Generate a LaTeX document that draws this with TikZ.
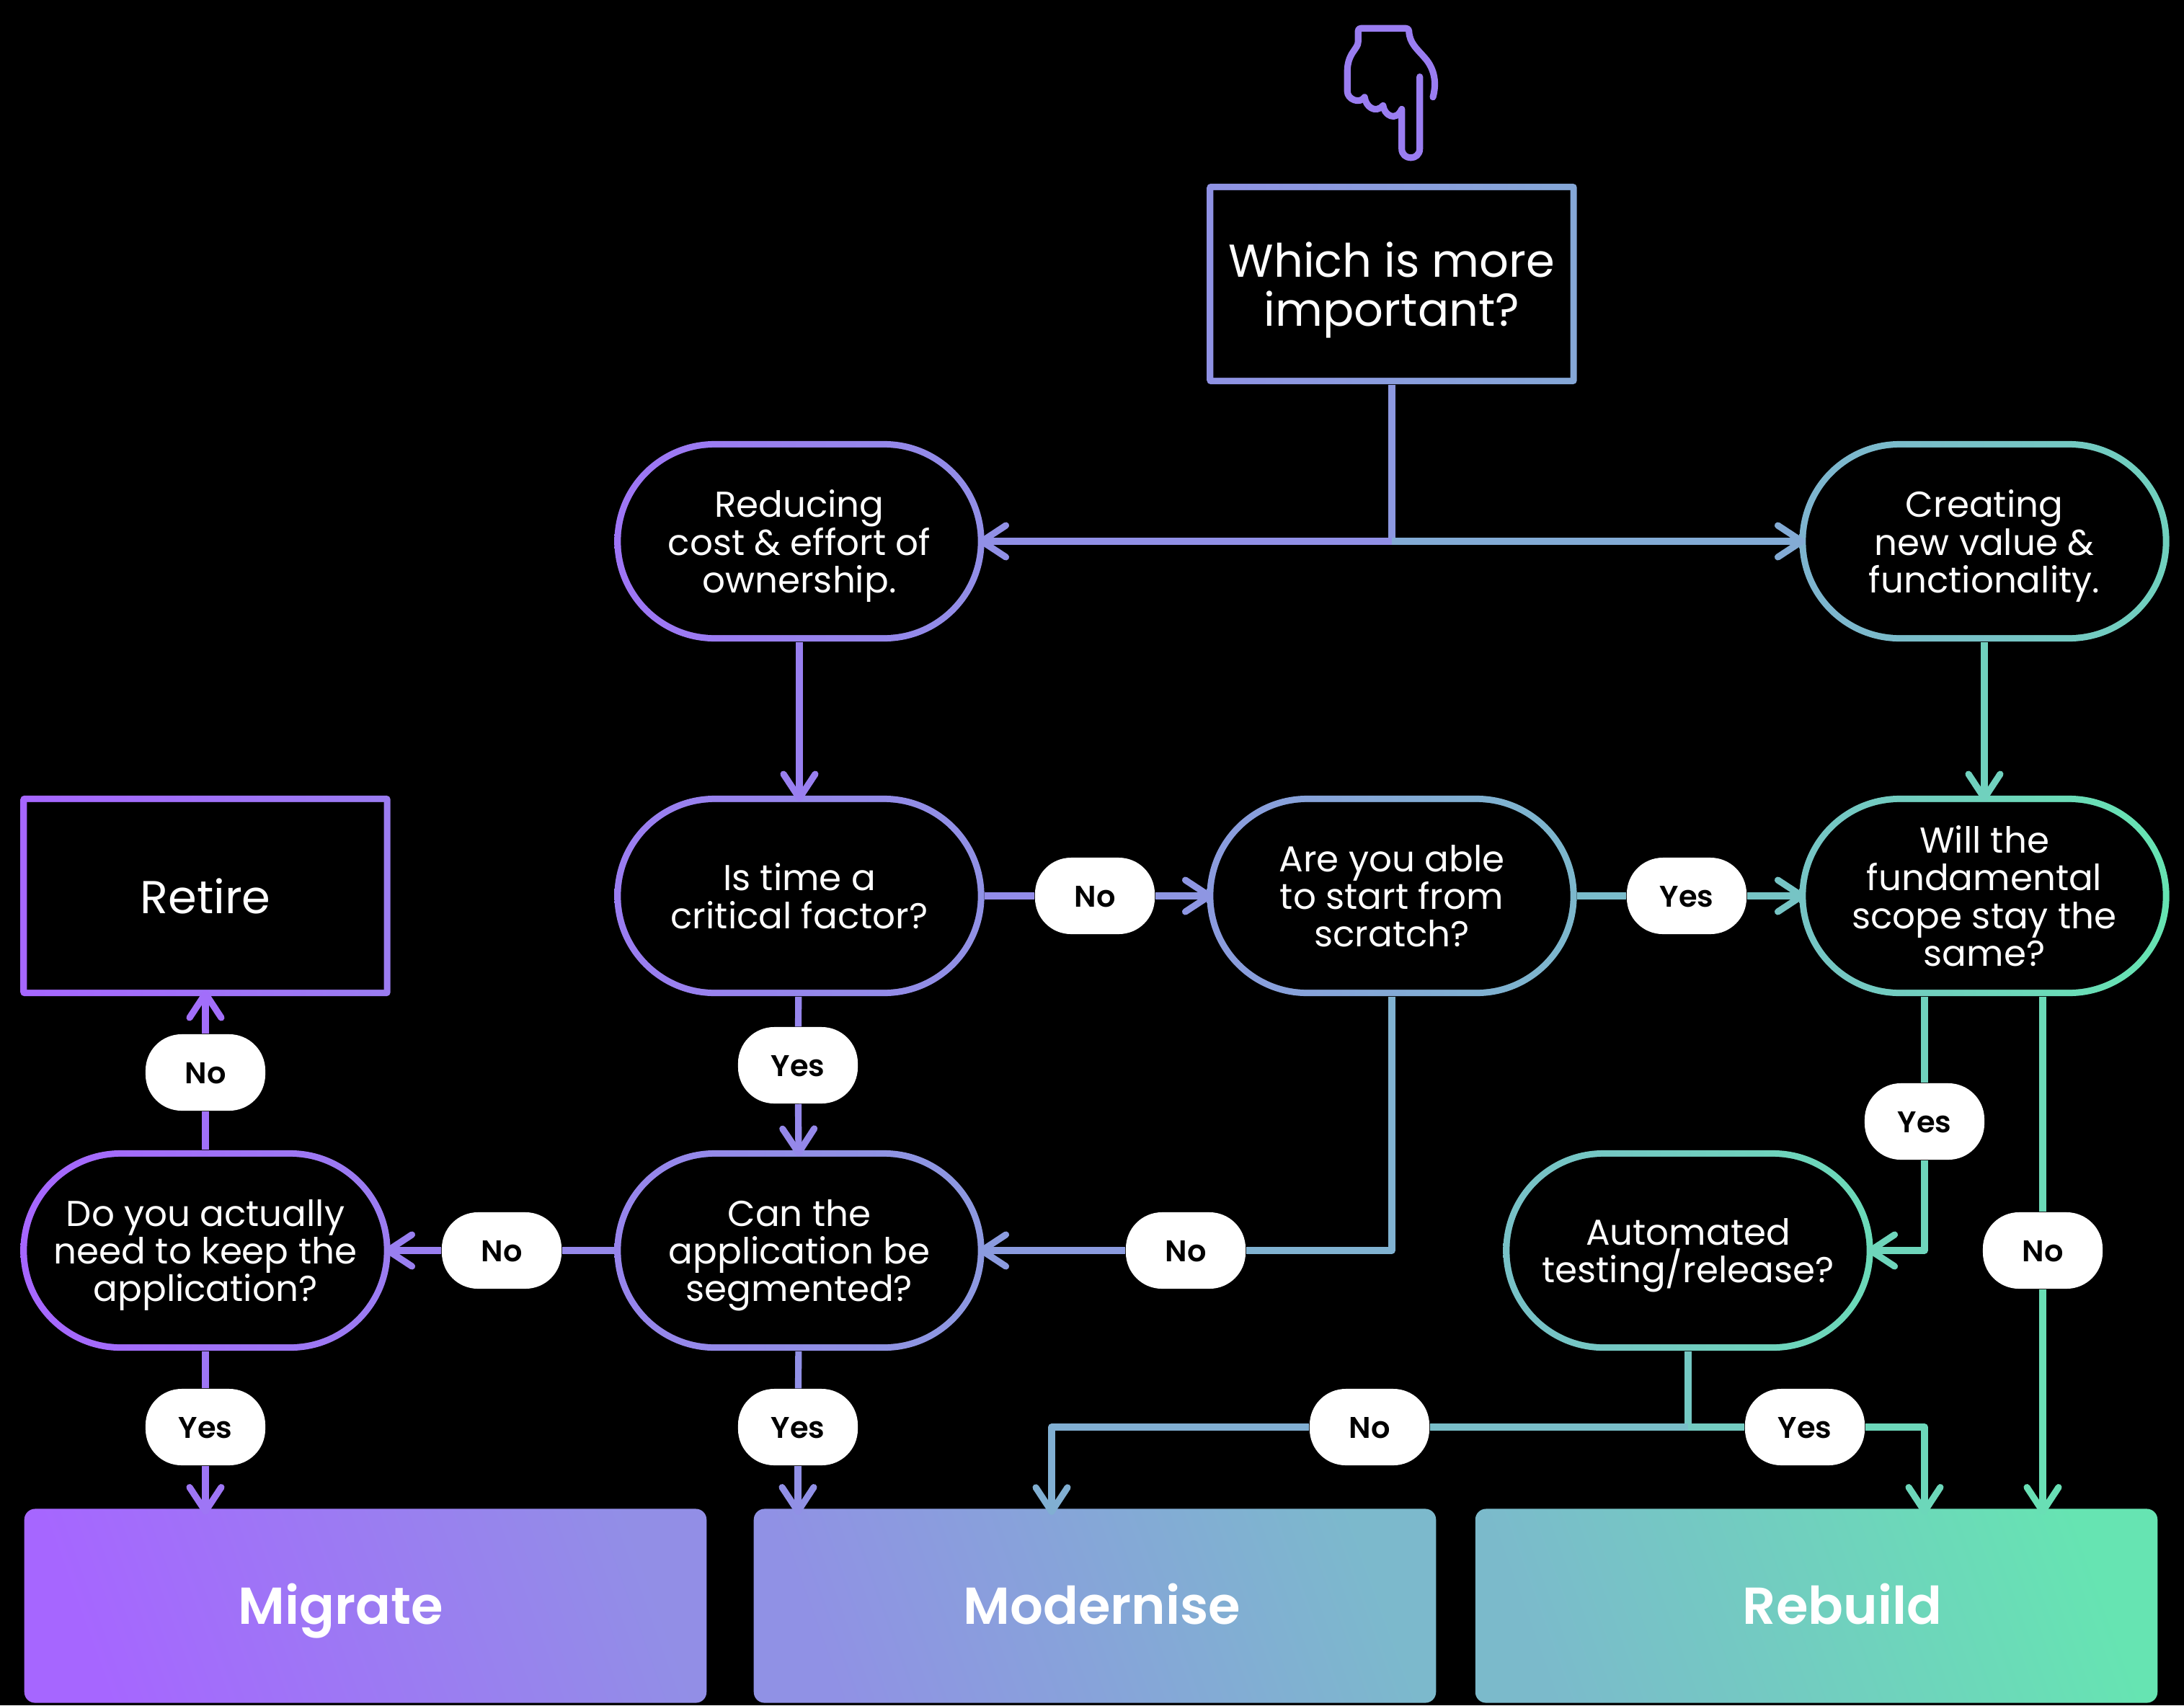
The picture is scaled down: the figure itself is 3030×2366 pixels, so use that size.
\documentclass[tikz,border=0pt]{standalone}
\usepackage{fontspec}
\setmainfont{Poppins}
\newfontfamily\flowmed{Poppins SemiBold}
\usetikzlibrary{arrows.meta}

\definecolor{flowpurple}{HTML}{A666FF}
\definecolor{flowgreen}{HTML}{66E4B2}

\tikzset{
	flowframe/.style n args={4}{rectangle,minimum width=5.13cm,minimum height=2.78cm,inner sep=0pt,
		text=white,align=center,rounded corners=#3,text depth=0pt,font=\fontsize{14.2}{14.8}\selectfont,
		path picture={
			\shade[left color=flowgreen!#1!flowpurple,right color=flowgreen!#2!flowpurple]
				(path picture bounding box.south west) rectangle (path picture bounding box.north east);
			\fill[black,rounded corners=#4] ([shift={(.09cm,.09cm)}]path picture bounding box.south west)
				rectangle ([shift={(-.09cm,-.09cm)}]path picture bounding box.north east);
		}},
	flowpill/.style 2 args={flowframe={#1}{#2}{1.39cm}{1.30cm}},
	flowrect/.style 2 args={flowframe={#1}{#2}{.05cm}{.001cm},text depth=-0.8pt,font=\fontsize{18.2}{19.2}\selectfont},
	answer/.style={rectangle,fill=white,text=black,minimum width=1.66cm,minimum height=1.06cm,inner sep=0pt,
		rounded corners=.5cm,text height=11.7pt,text depth=3pt,font=\flowmed\fontsize{11.8}{14}\selectfont},
	outcome/.style 2 args={rectangle,minimum width=9.46cm,minimum height=2.69cm,inner sep=0pt,rounded corners=.15cm,
		left color=flowgreen!#1!flowpurple,right color=flowgreen!#2!flowpurple,shading angle=110},
	outcometext/.style={text=white,text height=19.4pt,text depth=5pt,font=\flowmed\fontsize{20.5}{22}\selectfont},
	flowline/.style={draw=flowgreen!#1!flowpurple,line width=2.6pt,line join=round},
	flowarrow/.style={flowline=#1,-{Straight Barb[length=9.5pt,width=12.5pt,round]},shorten >=-2.5pt},
}

\begin{document}
\begin{tikzpicture}[x=0.01cm,y=-0.01cm]
	\fill[black] (0,0) rectangle (3030,2366);
	% pointing hand
	\begin{scope}[shift={(1780,0)},x=0.00333cm,y=-0.00333cm]
		\draw[flowline=18,line cap=round] (625,405) .. controls (640,350) and (635,290) .. (590,240)
			.. controls (560,205) and (527,180) .. (525,130) .. controls (525,122) and (520,118) .. (512,118)
			-- (325,118) .. controls (317,118) and (313,122) .. (313,130) -- (313,175)
			.. controls (313,205) and (268,220) .. (268,300) -- (268,380)
			.. controls (268,415) and (320,435) .. (340,405) .. controls (345,445) and (385,475) .. (417,440)
			.. controls (422,480) and (470,510) .. (495,455) -- (495,620)
			.. controls (495,670) and (570,670) .. (570,620) -- (570,320);
	\end{scope}

	% questions
	\node[flowrect={35}{52}] (which) at (1931,394) {Which is more\\important?};
	\node[flowpill={12}{32}] (reducing) at (1109,751) {Reducing\\cost \& effort of\\ownership.};
	\node[flowpill={62}{85}] (creating) at (2753,751) {Creating\\new value \&\\functionality.};
	\node[flowrect={0}{18}] (retire) at (285,1243) {Retire};
	\node[flowpill={18}{34}] (time) at (1109,1243) {Is time a\\critical factor?};
	\node[flowpill={42}{65}] (scratch) at (1931,1243) {Are you able\\to start from\\scratch?};
	\node[flowpill={75}{100}] (scope) at (2753,1243) {Will the\\fundamental\\scope stay the\\same?};
	\node[flowpill={0}{18}] (keep) at (285,1735) {Do you actually\\need to keep the\\application?};
	\node[flowpill={24}{40}] (segment) at (1109,1735) {Can the\\application be\\segmented?};
	\node[flowpill={72}{92}] (testing) at (2342,1735) {Automated\\testing/release?};

	% outcomes
	\node[outcome={0}{32}] (migrate) at (507,2228) {};
	\node[outcome={34}{66}] (modernise) at (1519,2228) {};
	\node[outcome={67}{100}] (rebuild) at (2520,2228) {};
	\node[outcometext] (migratetext) at (473,2228) {Migrate};
	\node[outcometext] (modernisetext) at (1529,2228) {Modernise};
	\node[outcometext] (rebuildtext) at (2556,2228) {Rebuild};

	% answers
	\node[answer] (noretire) at (285,1488) {No};
	\node[answer] (yeskeep) at (285,1980) {Yes};
	\node[answer] (nosegment) at (696,1735) {No};
	\node[answer] (yestime) at (1107,1478) {Yes};
	\node[answer] (yessegment) at (1107,1980) {Yes};
	\node[answer] (notime) at (1519,1243) {No};
	\node[answer] (noscratch) at (1645,1735) {No};
	\node[answer] (yesscratch) at (2340,1243) {Yes};
	\node[answer] (yesscope) at (2670,1556) {Yes};
	\node[answer] (noscope) at (2834,1735) {No};
	\node[answer] (notesting) at (1900,1980) {No};
	\node[answer] (yestesting) at (2504,1980) {Yes};

	\coordinate (whichjoin) at (1931,751);
	\coordinate (testingjoin) at (2342,1980);
	\coordinate (moderniseport) at (1459,2093);

	\draw[flowline=40] (which) -- (whichjoin);
	\draw[flowarrow=33] (whichjoin) -- (reducing);
	\draw[flowarrow=55] (whichjoin) -- (creating);
	\draw[flowarrow=20] (reducing) -- (time);
	\draw[flowarrow=85] (creating) -- (scope);

	\draw[flowline=30] (time) -- (notime);
	\draw[flowarrow=38] (notime) -- (scratch);
	\draw[flowline=68] (scratch) -- (yesscratch);
	\draw[flowarrow=75] (yesscratch) -- (scope);
	\draw[flowline=25] (time) -- (yestime);
	\draw[flowarrow=27] (yestime) -- (segment);

	\draw[flowline=60] (scratch) |- (noscratch);
	\draw[flowarrow=42] (noscratch) -- (segment);
	\draw[flowline=27] (segment) -- (nosegment);
	\draw[flowarrow=20] (nosegment) -- (keep);
	\draw[flowline=8] (keep) -- (noretire);
	\draw[flowarrow=6] (noretire) -- (retire);
	\draw[flowline=13] (keep) -- (yeskeep);
	\draw[flowarrow=13] (yeskeep) -- (yeskeep |- migrate.north);
	\draw[flowline=33] (segment) -- (yessegment);
	\draw[flowarrow=33] (yessegment) -- (yessegment |- modernise.north);

	\draw[flowline=86] (scope.south -| yesscope) -- (yesscope);
	\draw[flowarrow=88] (yesscope) |- (testing);
	\draw[flowline=92] (scope.south -| noscope) -- (noscope);
	\draw[flowarrow=96] (noscope) -- (noscope |- rebuild.north);
	\draw[flowline=78] (testing) -- (testingjoin);
	\draw[flowline=70] (testingjoin) -- (notesting);
	\draw[flowarrow=58] (notesting) -| (moderniseport);
	\draw[flowline=80] (testingjoin) -- (yestesting);
	\draw[flowarrow=90] (yestesting) -| (rebuild.north -| yesscope);
\end{tikzpicture}
\end{document}
